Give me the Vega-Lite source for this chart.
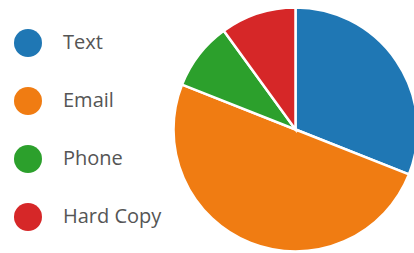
{
  "$schema": "https://vega.github.io/schema/vega-lite/v6.json",
  "width": 414,
  "height": 253,
  "autosize": {"type": "fit", "contains": "padding"},
  "padding": {"left": 177, "top": 8, "right": 0, "bottom": 2},
  "background": "white",
  "data": {
    "values": [
      {"method": "Text", "share": 31, "rank": 1},
      {"method": "Email", "share": 50, "rank": 2},
      {"method": "Phone", "share": 9, "rank": 3},
      {"method": "Hard Copy", "share": 10, "rank": 4}
    ]
  },
  "mark": {"type": "arc", "outerRadius": 122, "stroke": "white", "strokeWidth": 2.5},
  "encoding": {
    "theta": {"field": "share", "type": "quantitative", "stack": true},
    "order": {"field": "rank", "type": "quantitative"},
    "color": {
      "field": "method",
      "type": "nominal",
      "sort": ["Text", "Email", "Phone", "Hard Copy"],
      "scale": {
        "domain": ["Text", "Email", "Phone", "Hard Copy"],
        "range": ["#1f77b4", "#f07c12", "#2ca02c", "#d62728"]
      },
      "legend": {
        "title": null,
        "orient": "none",
        "legendX": -163,
        "legendY": 20,
        "symbolType": "circle",
        "symbolSize": 784,
        "symbolStrokeWidth": 0,
        "symbolOpacity": 1,
        "labelFont": "Open Sans",
        "labelFontSize": 20,
        "labelColor": "#555555",
        "labelOffset": 21,
        "rowPadding": 30,
        "padding": 0
      }
    }
  },
  "config": {"view": {"stroke": null}}
}
